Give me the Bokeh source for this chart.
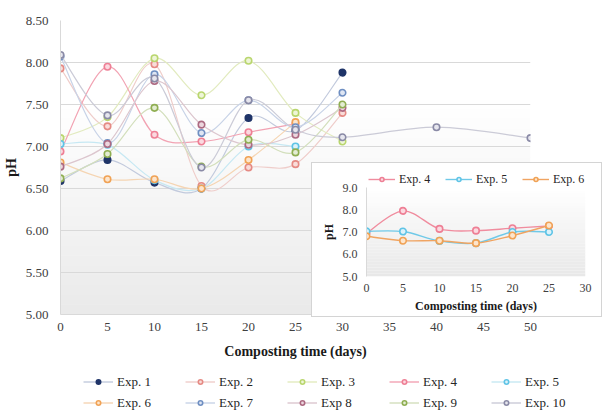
from bokeh.plotting import figure
from bokeh.models import (ColumnDataSource, Legend, LegendItem, BoxAnnotation,
                          SingleIntervalTicker, NumeralTickFormatter, Range1d)
from bokeh.layouts import column
from bokeh.embed import file_html
from bokeh.resources import INLINE

# ---------------- data ----------------
days = [0, 5, 10, 15, 20, 25, 30]
days_short = [0, 5, 10, 15, 20, 25]
days_long = [0, 5, 10, 15, 20, 25, 30, 40, 50]

exp1 = [6.59, 6.84, 6.57, 6.50, 7.34, 7.19, 7.88]
exp2 = [7.93, 7.24, 7.98, 6.53, 6.75, 6.79, 7.40]
exp3 = [7.10, 7.35, 8.05, 7.61, 8.02, 7.40, 7.06]
exp4 = [6.94, 7.95, 7.14, 7.06, 7.17, 7.27]
exp5 = [7.03, 7.02, 6.60, 6.50, 7.00, 7.00]
exp6 = [6.81, 6.61, 6.61, 6.50, 6.84, 7.29]
exp7 = [8.07, 7.04, 7.86, 7.16, 7.55, 7.23, 7.64]
exp8 = [6.76, 7.03, 7.78, 7.26, 7.02, 7.14, 7.46]
exp9 = [6.62, 6.91, 7.46, 6.76, 7.08, 6.93, 7.50]
exp10 = [8.09, 7.37, 7.81, 6.75, 7.55, 7.20, 7.11, 7.23, 7.10]

names = ["Exp. 1", "Exp. 2", "Exp. 3", "Exp. 4", "Exp. 5",
         "Exp. 6", "Exp. 7", "Exp 8", "Exp. 9", "Exp. 10"]
xs_all = [days, days, days, days_short, days_short, days_short, days, days, days, days_long]
ys_all = [exp1, exp2, exp3, exp4, exp5, exp6, exp7, exp8, exp9, exp10]

marker_colors = ["#1f3468", "#e58a84", "#b9d66e", "#ee7f95", "#5fc4e6",
                 "#f0a255", "#6f8fc2", "#ad6a82", "#8fae52", "#8a8aa6"]
fill_colors = ["#1f3468", "#f9dcd9", "#eef5d8", "#fbd9e0", "#dcf2fa",
               "#fde5cc", "#dfe6f3", "#ecd6de", "#e3ecd2", "#e6e6ee"]
line_colors = ["#c2cadd", "#efcdca", "#e2ebbf", "#f2a3b3", "#c6e8f3",
               "#f5d5b3", "#c8d3e7", "#dcc6ce", "#d3dfbc", "#cbcbd7"]

inset_idx = [3, 4, 5]
inset_line_colors = ["#f08c9e", "#6fc9e8", "#f0a462"]

FONT = "Liberation Serif"
Y0, Y1 = 5.0, 8.5
X0, X1 = 0, 50
IY0, IY1 = 5.0, 9.0
IX0, IX1 = 0, 30


def smooth(xs, ys):
    n = len(xs)
    d = dict(x0=[], y0=[], x1=[], y1=[], cx0=[], cy0=[], cx1=[], cy1=[])
    for i in range(n - 1):
        a = i - 1 if i > 0 else i
        b = i + 2 if i + 2 < n else i + 1
        d["x0"].append(xs[i]); d["y0"].append(ys[i])
        d["x1"].append(xs[i + 1]); d["y1"].append(ys[i + 1])
        d["cx0"].append(xs[i] + (xs[i + 1] - xs[a]) / 6.0)
        d["cy0"].append(ys[i] + (ys[i + 1] - ys[a]) / 6.0)
        d["cx1"].append(xs[i + 1] - (xs[b] - xs[i]) / 6.0)
        d["cy1"].append(ys[i + 1] - (ys[b] - ys[i]) / 6.0)
    return ColumnDataSource(d)


def gradient(fig, lo, hi, start=0.3, end_gray=233, n=30):
    step = (hi - lo) / n
    for k in range(n):
        bottom = lo + k * step
        f = 1 - (k + 0.5) / n  # 0 at top, 1 at bottom
        if f < start:
            g = 255
        else:
            g = int(round(255 - (255 - end_gray) * (f - start) / (1 - start)))
        col = "#%02x%02x%02x" % (g, g, g)
        fig.add_layout(BoxAnnotation(bottom=bottom, top=bottom + step * 1.05,
                                     fill_color=col, fill_alpha=1.0,
                                     line_alpha=0, level="image"))


def style_axes(fig, tick_size, label_size, ystep, yfmt):
    fig.outline_line_color = None
    fig.xgrid.visible = False
    fig.ygrid.visible = False
    for ax in (fig.xaxis[0], fig.yaxis[0]):
        ax.major_label_text_font = FONT
        ax.major_label_text_font_size = tick_size
        ax.major_label_text_color = "#404040"
        ax.axis_label_text_font = FONT
        ax.axis_label_text_font_size = label_size
        ax.axis_label_text_font_style = "bold"
        ax.axis_label_text_color = "#1a1a1a"
        ax.axis_line_color = "#d9d9d9"
        ax.major_tick_line_color = None
        ax.minor_tick_line_color = None
        ax.major_tick_out = 0
        ax.major_tick_in = 0
        ax.minor_tick_out = 0
        ax.minor_tick_in = 0
    fig.xaxis.ticker = SingleIntervalTicker(interval=5)
    fig.yaxis.ticker = SingleIntervalTicker(interval=ystep)
    fig.yaxis.formatter = NumeralTickFormatter(format=yfmt)


def legend_strip(width, height, idx, lcolors, loc, ncols, gw, gh, lh, lw, fsize):
    """Small transparent figure that only shows a legend (its sample
    renderers hold the series data, which lies outside the strip's view)."""
    f = figure(width=width, height=height, x_range=Range1d(-100, -99),
               y_range=Range1d(-100, -99), output_backend="svg",
               toolbar_location=None, x_axis_location=None,
               y_axis_location=None, min_border_left=0, min_border_right=0,
               min_border_top=0, min_border_bottom=0)
    f.frame_align = False
    f.grid.visible = False
    f.outline_line_color = None
    f.background_fill_alpha = 0
    f.border_fill_alpha = 0
    its = []
    for k, i in enumerate(idx):
        lr = f.line(xs_all[i], ys_all[i], line_color=lcolors[k], line_width=1.4)
        sr = f.scatter(xs_all[i], ys_all[i], size=6, marker="circle",
                       fill_color=fill_colors[i], line_color=marker_colors[i],
                       line_width=1.6)
        its.append(LegendItem(label=names[i], renderers=[lr, sr]))
    lg = Legend(items=its, orientation="horizontal", ncols=ncols, location=loc,
                glyph_width=gw, glyph_height=gh, label_height=lh,
                label_width=lw, label_standoff=4, spacing=0, padding=0,
                margin=0, border_line_alpha=0, background_fill_alpha=0,
                label_text_font=FONT, label_text_font_size=fsize,
                label_text_color="#262626")
    f.add_layout(lg)
    return f


# ---------------- main chart ----------------
p = figure(frame_width=470, frame_height=294, x_range=Range1d(X0, X1),
           y_range=Range1d(Y0, Y1),
           output_backend="svg", toolbar_location=None,
           min_border_left=54, min_border_right=65, min_border_top=20,
           min_border_bottom=50)
p.frame_align = False
style_axes(p, "13px", "14px", 0.5, "0.00")
p.ygrid.visible = True
p.ygrid.grid_line_color = "#d9d9d9"
p.ygrid.ticker = SingleIntervalTicker(interval=0.5)
p.xaxis.axis_label = "Composting time (days)"
p.yaxis.axis_label = "pH"
p.yaxis.major_label_standoff = 12
p.yaxis.axis_label_standoff = 4
p.xaxis.major_label_standoff = 8
p.xaxis.axis_label_standoff = 10
gradient(p, Y0, Y1)

for i in range(10):
    src = smooth(xs_all[i], ys_all[i])
    p.bezier(x0="x0", y0="y0", x1="x1", y1="y1", cx0="cx0", cy0="cy0",
             cx1="cx1", cy1="cy1", source=src, line_color=line_colors[i],
             line_width=1.2)
    p.scatter(xs_all[i], ys_all[i], size=6.5, marker="circle",
              fill_color=fill_colors[i], line_color=marker_colors[i],
              line_width=1.6)

# main legend strip, two rows of five
lf = legend_strip(589, 44, list(range(10)), line_colors, (75, 0), 5,
                  30, 11, 21, 68, "13px")
lf.styles = {"position": "absolute", "left": "8px", "top": "369px",
             "z-index": "5"}

# ---------------- inset chart ----------------
q = figure(frame_width=217, frame_height=87, x_range=Range1d(IX0, IX1),
           y_range=Range1d(IY0, IY1),
           output_backend="svg", toolbar_location=None,
           min_border_left=54, min_border_right=18, min_border_top=24,
           min_border_bottom=42)
q.frame_align = False
style_axes(q, "12px", "12px", 1, "0.0")
q.xaxis.axis_label = "Composting time (days)"
q.yaxis.axis_label = "pH"
q.yaxis.major_label_standoff = 9
q.yaxis.axis_label_standoff = 4
q.xaxis.major_label_standoff = 7
q.xaxis.axis_label_standoff = 4
q.xaxis.axis_line_color = None
gradient(q, IY0, IY1, start=0.0, end_gray=232)

for k, i in enumerate(inset_idx):
    src = smooth(xs_all[i], ys_all[i])
    q.bezier(x0="x0", y0="y0", x1="x1", y1="y1", cx0="cx0", cy0="cy0",
             cx1="cx1", cy1="cy1", source=src, line_color=inset_line_colors[k],
             line_width=1.4)
    q.scatter(xs_all[i], ys_all[i], size=6.5, marker="circle",
              fill_color=fill_colors[i], line_color=marker_colors[i],
              line_width=1.6)

q.styles = {"position": "absolute", "left": "311px", "top": "162px",
            "border": "1px solid #d4d4d4", "z-index": "10",
            "background": "white"}

# inset legend strip, one row of three
qf = legend_strip(236, 18, inset_idx, inset_line_colors, (0, 1), 3,
                  27, 10, 16, 46, "12px")
qf.styles = {"position": "absolute", "left": "368px", "top": "170px",
             "z-index": "20"}

root = column(p, lf, q, qf)

open("out.html", "w").write(file_html(root, INLINE))
